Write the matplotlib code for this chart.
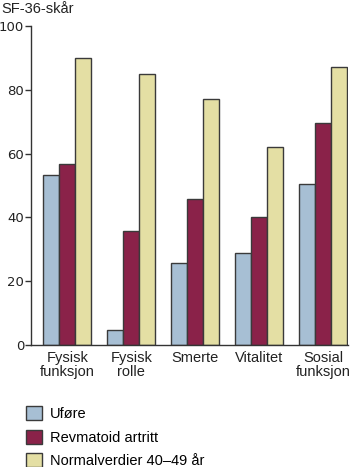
import matplotlib
matplotlib.use("Agg")
import matplotlib.pyplot as plt
import numpy as np
from matplotlib.patches import Patch

categories = ["Fysisk\nfunksjon", "Fysisk\nrolle", "Smerte", "Vitalitet", "Sosial\nfunksjon"]
series_names = ["Uføre", "Revmatoid artritt", "Normalverdier 40–49 år"]
ufore = [53.3, 4.7, 25.7, 29.0, 50.4]
revmatoid = [56.7, 35.7, 45.9, 40.0, 69.5]
normal = [90.0, 85.0, 77.0, 62.0, 87.0]
yticks = [0, 20, 40, 60, 80, 100]

colors = ["#a7bfd4", "#8a2249", "#e4dfa4"]
edge = "#3a3a3a"

plt.rcParams['font.family'] = ['Liberation Sans', 'DejaVu Sans']

fig = plt.figure(figsize=(3.5, 4.67), dpi=100)
ax = fig.add_axes([0.0886, 0.2612, 0.9054, 0.6831])

x = np.arange(len(categories))
w = 0.25
for i, (vals, c) in enumerate(zip([ufore, revmatoid, normal], colors)):
    ax.bar(x + (i - 1) * w, vals, width=w, color=c, edgecolor=edge, linewidth=1.0)

ax.set_xlim(-0.57, 4.39)
ax.set_ylim(0, 100)
ax.set_yticks(yticks)
ax.set_yticklabels([str(t) for t in yticks], family=['DejaVu Sans'], fontsize=9.5)
ax.set_xticks(x)
ax.set_xticklabels(categories, fontsize=10.5, color="#222222", linespacing=1.05)
ax.tick_params(axis='x', length=0, pad=4)
ax.tick_params(axis='y', length=4, width=1, color="#333333", labelcolor="#222222", pad=1)
for s in ["top", "right"]:
    ax.spines[s].set_visible(False)
for s in ["left", "bottom"]:
    ax.spines[s].set_color("#333333")
    ax.spines[s].set_linewidth(1.0)

fig.text(0.005, 0.995, "SF-36-skår", ha="left", va="top", fontsize=10.5, color="#222222")

handles = [Patch(facecolor=c, edgecolor=edge, linewidth=1.0) for c in colors]
fig.legend(handles, series_names, loc="upper left", bbox_to_anchor=(0.075, 0.1306),
           frameon=False, fontsize=10.5, handlelength=1.1, handleheight=1.1,
           handletextpad=0.5, labelspacing=0.6, borderaxespad=0, borderpad=0)

fig.savefig("out.png", dpi=100)
